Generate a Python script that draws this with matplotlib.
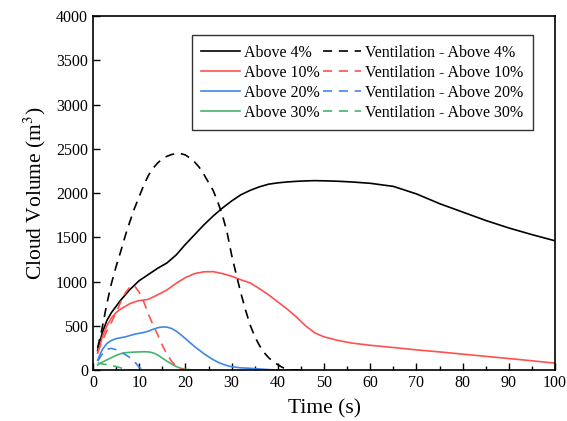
import numpy as np
import matplotlib
matplotlib.use('Agg')
import matplotlib.pyplot as plt
from matplotlib.ticker import MultipleLocator

plt.rcParams['font.family'] = ['Liberation Serif', 'DejaVu Serif']
plt.rcParams['mathtext.fontset'] = 'stix'

# Cloud volume above concentration thresholds (m^3) versus time (s)
t_base = [1, 2, 3, 4, 5, 6, 7, 8, 9, 10, 11, 12, 14, 16, 18, 20, 22, 24, 26, 28, 30,
          32, 34, 36, 38, 40, 42, 44, 46, 48, 50, 53, 56, 60, 65, 70, 75, 80, 85, 90, 95, 100]
above_4 = [220, 420, 560, 650, 720, 790, 850, 910, 960, 1010, 1045, 1080, 1150, 1210, 1300,
           1420, 1530, 1640, 1740, 1830, 1910, 1980, 2030, 2070, 2100, 2115, 2125, 2132, 2137,
           2140, 2138, 2133, 2125, 2110, 2075, 1990, 1880, 1785, 1690, 1605, 1530, 1460]
above_10 = [190, 370, 500, 590, 650, 690, 720, 750, 770, 785, 790, 800, 850, 905, 980,
            1045, 1090, 1110, 1112, 1090, 1060, 1020, 985, 920, 850, 770, 690, 600, 500,
            420, 375, 335, 305, 280, 255, 228, 205, 180, 155, 130, 105, 78]

t_20 = [1, 2, 3, 4, 5, 6, 7, 8, 9, 10, 11, 12, 13, 14, 15, 16, 17, 18, 19, 20, 21, 22,
        23, 24, 25, 26, 27, 28, 29, 30, 32, 34, 36, 38, 40, 45]
above_20 = [113, 230, 300, 335, 355, 365, 375, 390, 405, 415, 425, 440, 460, 478, 487, 485,
            470, 440, 400, 355, 310, 265, 225, 185, 150, 118, 90, 68, 50, 38, 25, 20, 12, 5, 0, 0]

t_30 = [1, 2, 3, 4, 5, 6, 7, 8, 9, 10, 11, 12, 13, 14, 15, 16, 17, 18, 19, 20, 22, 25]
above_30 = [57, 90, 115, 140, 165, 185, 196, 200, 203, 205, 207, 205, 195, 170, 135, 100,
            70, 40, 20, 8, 0, 0]

t_v4 = [1, 2, 3, 4, 5, 6, 7, 8, 9, 10, 11, 12, 13, 14, 15, 16, 17, 18, 19, 20, 21, 22,
        23, 24, 25, 26, 27, 28, 29, 30, 31, 32, 33, 34, 35, 36, 37, 38, 39, 40, 41, 42, 43, 45]
vent_4 = [250, 480, 750, 980, 1170, 1340, 1520, 1680, 1830, 1960, 2090, 2200, 2280, 2340,
          2385, 2415, 2435, 2445, 2445, 2430, 2395, 2350, 2290, 2210, 2120, 2030, 1900, 1750,
          1560, 1300, 1080, 870, 680, 510, 380, 280, 200, 140, 95, 60, 30, 10, 0, 0]

t_v10 = [1, 2, 3, 4, 5, 6, 7, 8, 8.5, 9, 10, 11, 12, 13, 14, 15, 16, 17, 18, 19, 20, 21, 25]
vent_10 = [200, 330, 440, 540, 650, 770, 870, 940, 960, 950, 880, 770, 630, 510, 400, 280,
           180, 100, 45, 15, 3, 0, 0]

t_v20 = [1, 2, 3, 4, 5, 6, 7, 8, 9, 10, 11, 12]
vent_20 = [100, 180, 235, 245, 230, 205, 175, 140, 95, 30, 0, 0]

t_v30 = [1, 2, 3, 4, 5, 6, 7, 8, 10]
vent_30 = [80, 70, 60, 50, 40, 25, 10, 0, 0]

c_red = '#ff5050'
c_blue = '#3f86e8'
c_green = '#45b36e'

fig = plt.figure(figsize=(5.67, 4.21), dpi=100)
ax = fig.add_axes([0.164, 0.121, 0.815, 0.841])

lw = 1.2
dash = (0, (5.5, 4))
ax.plot(t_base, above_4, color='black', lw=lw, label='Above 4%')
ax.plot(t_base, above_10, color=c_red, lw=lw, label='Above 10%')
ax.plot(t_20, above_20, color=c_blue, lw=lw, label='Above 20%')
ax.plot(t_30, above_30, color=c_green, lw=lw, label='Above 30%')
ax.plot(t_v4, vent_4, color='black', lw=lw, ls=dash, label='Ventilation - Above 4%')
ax.plot(t_v10, vent_10, color=c_red, lw=lw, ls=dash, label='Ventilation - Above 10%')
ax.plot(t_v20, vent_20, color=c_blue, lw=lw, ls=dash, label='Ventilation - Above 20%')
ax.plot(t_v30, vent_30, color=c_green, lw=lw, ls=dash, label='Ventilation - Above 30%')

ax.set_xlim(0, 100)
ax.set_ylim(0, 4000)
ax.xaxis.set_major_locator(MultipleLocator(10))
ax.xaxis.set_minor_locator(MultipleLocator(5))
ax.yaxis.set_major_locator(MultipleLocator(500))
ax.tick_params(which='major', direction='in', length=5, width=1, labelsize=11.5, top=False, right=False)
ax.tick_params(which='minor', direction='in', length=3, width=1, top=False, right=False)
for s in ax.spines.values():
    s.set_linewidth(1.2)

ax.set_xlabel('Time (s)', fontsize=15.5, labelpad=6)
ax.set_ylabel('Cloud Volume (m$^3$)', fontsize=15.5, labelpad=6)

leg = ax.legend(ncol=2, loc='upper right', bbox_to_anchor=(0.952, 0.946), fontsize=11.5,
                frameon=True, fancybox=False, edgecolor='black', handlelength=2.4,
                handletextpad=0.25, columnspacing=0.2, labelspacing=0.25, borderpad=0.6,
                borderaxespad=0)
leg.get_frame().set_linewidth(1.0)

fig.savefig('out.png', dpi=100)
